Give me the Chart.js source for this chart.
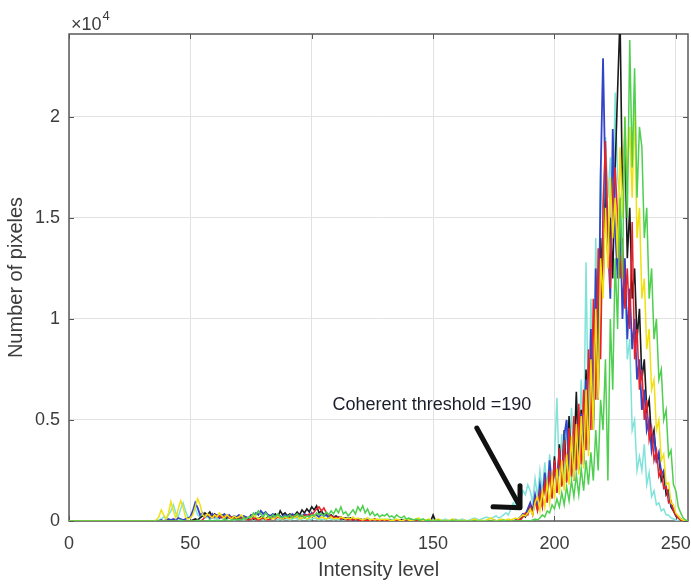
<!DOCTYPE html>
<html><head><meta charset="utf-8">
<script src="https://cdn.jsdelivr.net/npm/chart.js@4/dist/chart.umd.min.js"></script>
<style>html,body{margin:0;padding:0;background:#fff;}canvas{display:block;}</style>
</head><body>
<canvas id="c" width="691" height="584"></canvas>
<script>
// intensity bins 0..255
const levels = Array.from({length: 256}, (_, i) => i);
const xTickValues = [0, 50, 100, 150, 200, 250];
const yTickValues = [0, 5000, 10000, 15000, 20000];
const xTitle = 'Intensity level';
const yTitle = 'Number of pixeles';
const thresholdLabel = 'Coherent threshold =190';
const labelAt = [149.5, 5750];
const arrowFrom = [168, 4600];
const arrowTo = [185.8, 650];

const yellowCounts = [
0,0,0,0,0,0,0,0,0,0, 0,0,0,0,0,0,0,0,0,0, 0,0,0,0,0,0,0,0,0,0,
0,0,0,0,0,0,50,200,550,300,
100,400,950,500,150,600,1000,700,200,100,
150,300,700,1100,800,300,200,350,250,150,
300,200,400,250,150,300,200,100,250,150,
200,300,150,100,200,150,300,200,100,150,
250,100,150,200,100,150,250,150,100,200,
150,100,200,150,250,100,150,200,100,150,
200,300,150,100,200,150,100,150,200,100,
150,100,200,150,100,150,100,200,100,150,
100,50,100,150,50,100,50,100,50,100,
50,100,50,0,50,100,50,0,50,100,
50,0,50,100,150,50,0,50,100,50,
0,50,100,50,0,50,0,50,100,50,
0,50,0,50,0,0,50,100,50,0,
50,0,50,100,150,50,0,50,100,50,
50,100,50,100,150,100,200,300,250,400,
600,300,900,1200,500,1500,700,1900,900,2200,
1100,2600,1300,3000,1500,3300,1800,4200,2000,4800,
2300,5200,2600,6500,3200,8000,4500,10500,6000,13000,
11000,15500,12500,17000,14000,16000,13000,18500,15000,20000,
17000,19500,16000,20500,14000,15500,11000,12000,8500,9500,
6500,7000,4500,5000,3000,3300,1800,1900,900,800,
400,250,100,50,0,0];

const blueCounts = [
0,0,0,0,0,0,0,0,0,0, 0,0,0,0,0,0,0,0,0,0, 0,0,0,0,0,0,0,0,0,0,
0,0,0,0,0,0,0,0,50,0,
50,100,50,100,50,150,100,50,100,150,
200,500,900,650,300,400,200,300,150,350,
200,300,150,250,350,200,300,150,250,200,
300,150,250,200,150,300,250,400,300,500,
350,450,300,250,350,200,300,250,150,300,
250,200,350,250,200,300,250,350,300,200,
400,250,300,200,350,250,300,150,250,200,
150,200,100,150,100,150,100,50,100,50,
100,50,100,50,50,0,50,50,0,50,
50,0,50,0,0,50,0,0,50,0,
0,50,0,0,0,50,0,0,0,0,
0,0,50,0,0,0,0,0,0,50,
0,0,0,0,0,0,0,0,0,0,
0,0,0,0,0,50,0,0,0,0,
0,0,0,0,50,100,200,350,300,600,
900,500,1300,700,1800,900,2400,1200,3000,1500,
2800,1400,3500,1800,4200,5000,2400,4000,2000,4600,
2500,5300,2800,7000,3500,9500,5000,12500,7000,17000,
22900,16500,14000,11000,19400,14500,12000,15500,10000,13000,
9000,11500,8500,10000,7000,8000,5500,6500,4500,5000,
3500,4200,3000,3400,2300,2500,1600,1400,800,600,
300,200,100,0,0,0];

const blackCounts = [
0,0,0,0,0,0,0,0,0,0, 0,0,0,0,0,0,0,0,0,0, 0,0,0,0,0,0,0,0,0,0,
0,0,0,0,0,0,0,0,0,0, 0,0,0,0,0,0,0,0,0,0,
0,50,100,50,150,250,400,300,450,200,
350,250,150,300,200,150,250,100,200,150,
100,150,200,100,150,200,100,150,100,200,
150,100,200,150,250,350,200,500,300,400,
250,350,200,300,450,300,550,400,600,450,
700,550,750,400,500,300,400,250,300,200,
250,150,200,100,150,100,150,50,100,50,
100,50,50,0,50,0,50,0,0,50,
0,0,50,0,0,0,0,50,0,0,
0,0,0,0,0,0,0,0,50,0,
300,0,0,0,0,0,0,0,0,0,
0,0,0,0,0,0,0,0,0,0,
0,0,0,0,0,0,0,0,0,0,
0,0,0,0,0,50,150,300,200,500,
800,400,1100,600,1500,800,2000,1000,2600,1200,
3200,1500,3800,1800,4500,2000,5200,2400,3000,6400,
2600,5500,3000,7500,3800,8500,4500,11000,6000,14000,
11500,16500,13000,15000,12000,17500,21300,25000,16000,19000,
13000,15500,11000,12500,9000,10500,7000,8000,5500,6000,
4000,4500,3000,3200,2000,2300,1300,1500,700,500,
250,150,50,0,0,0];

const redCounts = [
0,0,0,0,0,0,0,0,0,0, 0,0,0,0,0,0,0,0,0,0, 0,0,0,0,0,0,0,0,0,0,
0,0,0,0,0,0,0,0,0,0, 0,0,0,0,0,0,0,0,0,0,
0,0,0,0,0,50,200,350,250,150,
300,200,250,150,200,300,150,200,100,150,
200,100,150,100,50,100,150,100,50,100,
150,100,50,100,150,100,200,150,100,150,
200,150,250,200,300,250,200,300,250,350,
300,450,600,700,500,650,400,300,250,200,
150,200,100,150,100,50,100,50,100,50,
0,50,0,50,0,50,100,0,50,0,
0,50,0,0,0,0,50,0,0,0,
0,0,0,50,0,0,0,0,0,0,
0,0,0,0,0,0,0,0,0,0,
0,0,0,0,0,0,0,0,0,0,
0,0,0,0,0,0,0,0,0,0,
0,0,0,0,0,100,50,200,400,300,
700,300,1000,500,1400,700,1900,900,2500,1100,
3000,1400,3600,1700,4000,1900,4600,2200,5200,2500,
5800,2800,6500,3500,8500,4500,11000,6000,13500,8000,
15500,18800,14500,11500,16000,17500,15000,12000,14000,10500,
12500,9500,14800,8000,9500,6500,7500,5000,6000,4000,
4600,3000,3500,2200,2500,1600,1700,900,1000,500,
300,150,50,0,0,0];

const cyanCounts = [
0,0,0,0,0,0,0,0,0,0, 0,0,0,0,0,0,0,0,0,0, 0,0,0,0,0,0,0,0,0,0,
0,0,0,0,0,0,0,50,100,200,
100,300,500,800,400,200,600,900,500,200,
150,400,650,300,200,250,150,200,100,150,
100,150,100,200,150,100,150,100,50,100,
150,100,50,100,150,100,50,100,150,100,
50,100,50,100,150,100,50,100,50,100,
100,50,100,150,100,50,100,150,100,50,
100,150,100,50,100,50,100,150,100,50,
100,50,100,50,100,150,100,50,100,50,
100,50,100,150,100,50,100,50,100,50,
100,50,100,50,100,50,0,50,100,50,
50,100,50,0,50,100,50,50,0,50,
100,50,0,50,50,100,50,0,50,100,
50,50,100,50,0,50,100,150,100,50,
100,150,200,150,100,200,250,150,200,300,
400,300,600,900,700,1200,1000,1500,1300,1800,
1500,900,2100,1200,2500,1400,2900,1600,3300,1800,
3100,6100,2200,4300,2000,5000,2500,5600,2800,6200,
3000,7000,3500,12800,4500,11000,6000,14000,8000,17500,
14500,19000,16000,18000,15000,21200,17000,16000,13000,12000,
8000,9000,4500,5000,2500,3200,2500,3800,1800,2400,
1200,1500,800,900,500,600,300,300,150,100,
50,0,0,0,0,0];

const greenCounts = [
0,0,0,0,0,0,0,0,0,0, 0,0,0,0,0,0,0,0,0,0, 0,0,0,0,0,0,0,0,0,0,
0,0,0,0,0,0,0,0,0,0,
0,0,0,0,0,0,50,0,0,0,
0,0,0,50,0,0,0,0,50,0,
0,50,0,0,100,50,0,50,100,50,
100,50,150,100,200,200,400,300,500,350,
200,400,250,150,300,200,350,200,150,250,
200,300,150,250,350,200,300,150,250,200,
300,250,400,300,350,250,450,300,500,350,
600,400,700,350,450,250,400,550,350,700,
500,750,400,600,300,450,250,350,200,300,
250,350,200,250,150,300,200,150,250,100,
150,100,50,100,50,50,100,0,50,0,
0,0,50,0,0,0,0,0,50,0,
0,0,0,0,0,0,0,0,0,0,
0,0,0,0,0,0,0,0,0,50,
0,0,0,0,0,0,0,0,0,0,
0,50,100,50,150,300,200,500,400,800,
600,1100,700,1400,800,1700,1000,2000,1200,2300,
1300,2600,1500,3000,1800,3400,2000,4500,2500,6000,
4500,8000,2000,10000,6500,13000,9500,16000,12000,20000,
15000,23800,17500,22400,16000,19500,18500,14000,15500,11000,
12500,9000,10000,7000,7500,5000,5500,3200,3500,1800,
1500,700,400,150,50,0];

const series = [
  {name: 'green',  data: greenCounts,  color: '#4fcf4f', width: 1.5},
  {name: 'yellow', data: yellowCounts, color: '#f0e010', width: 1.5},
  {name: 'red',    data: redCounts,    color: '#e8202a', width: 1.5},
  {name: 'blue',   data: blueCounts,   color: '#3344c8', width: 1.8},
  {name: 'black',  data: blackCounts,  color: '#1a1a1a', width: 1.6},
  {name: 'cyan',   data: cyanCounts,   color: '#7fe3da', width: 1.5}
];

const textColor = '#3c3c3c';
const fontFamily = '"Liberation Sans", Arial, Helvetica, sans-serif';

const matlabAxes = {
  id: 'matlabAxes',
  beforeDatasetsDraw(chart) {
    const {ctx, chartArea: a, scales: {x, y}} = chart;
    ctx.save();
    ctx.strokeStyle = '#555';
    ctx.lineWidth = 1;
    const seg = (x0, y0, x1, y1) => { ctx.beginPath(); ctx.moveTo(x0, y0); ctx.lineTo(x1, y1); ctx.stroke(); };
    xTickValues.forEach(v => {
      const px = Math.round(x.getPixelForValue(v)) + 0.5;
      seg(px, a.bottom, px, a.bottom - 5);
      seg(px, a.top, px, a.top + 5);
    });
    yTickValues.forEach(v => {
      const py = Math.round(y.getPixelForValue(v)) + 0.5;
      seg(a.left, py, a.left + 5, py);
      seg(a.right, py, a.right - 5, py);
    });
    ctx.strokeStyle = '#5a5a5a';
    ctx.lineWidth = 1.5;
    ctx.strokeRect(a.left, a.top, a.right - a.left, a.bottom - a.top);
    ctx.restore();
  },
  afterDatasetsDraw(chart) {
    const {ctx, chartArea: a, scales: {x, y}} = chart;
    ctx.save();
    // x10^4 exponent label
    ctx.fillStyle = textColor;
    ctx.textBaseline = 'alphabetic';
    ctx.textAlign = 'left';
    ctx.font = '18px ' + fontFamily;
    const base = a.left + 2;
    ctx.fillText('\u00d710', base, a.top - 4);
    const w = ctx.measureText('\u00d710').width;
    ctx.font = '13px ' + fontFamily;
    ctx.fillText('4', base + w + 1, a.top - 14);
    // annotation text
    ctx.font = '18px ' + fontFamily;
    ctx.fillStyle = '#1c1c2a';
    ctx.textAlign = 'center';
    ctx.textBaseline = 'middle';
    ctx.fillText(thresholdLabel, x.getPixelForValue(labelAt[0]), y.getPixelForValue(labelAt[1]));
    // arrow
    const x0 = x.getPixelForValue(arrowFrom[0]), y0 = y.getPixelForValue(arrowFrom[1]);
    const x1 = x.getPixelForValue(arrowTo[0]), y1 = y.getPixelForValue(arrowTo[1]);
    ctx.strokeStyle = '#111';
    ctx.lineWidth = 5;
    ctx.lineCap = 'round';
    ctx.lineJoin = 'round';
    ctx.beginPath(); ctx.moveTo(x0, y0); ctx.lineTo(x1 - 1, y1 - 3); ctx.stroke();
    ctx.beginPath(); ctx.moveTo(x1 - 27, y1 - 1); ctx.lineTo(x1, y1); ctx.lineTo(x1, y1 - 22); ctx.stroke();
    ctx.restore();
  }
};

new Chart(document.getElementById('c'), {
  type: 'line',
  data: {
    labels: levels,
    datasets: series.map((s, i) => ({
      label: s.name,
      data: s.data,
      borderColor: s.color,
      backgroundColor: s.color,
      borderWidth: s.width,
      pointRadius: 0,
      tension: 0,
      fill: false,
      order: i
    }))
  },
  options: {
    responsive: false,
    animation: false,
    events: [],
    layout: {padding: {top: 34, right: 3, left: 0, bottom: 0}},
    plugins: {legend: {display: false}, tooltip: {enabled: false}},
    scales: {
      x: {
        type: 'linear',
        min: 0, max: 255,
        afterFit: s => { s.height = 63; s.paddingLeft = 0; s.paddingRight = 0; },
        afterBuildTicks: s => { s.ticks = xTickValues.map(v => ({value: v})); },
        grid: {color: '#e2e2e2', lineWidth: 1, drawTicks: false},
        border: {display: false},
        ticks: {padding: 12, color: textColor, font: {family: fontFamily, size: 18}, maxRotation: 0, autoSkip: false},
        title: {display: true, text: xTitle, color: textColor, font: {family: fontFamily, size: 20}, padding: {top: 0, bottom: 2}}
      },
      y: {
        type: 'linear',
        min: 0, max: 24100,
        afterFit: s => { s.width = 69; s.paddingTop = 0; s.paddingBottom = 0; },
        afterBuildTicks: s => { s.ticks = yTickValues.map(v => ({value: v})); },
        grid: {color: '#e2e2e2', lineWidth: 1, drawTicks: false},
        border: {display: false},
        ticks: {padding: 9, color: textColor, font: {family: fontFamily, size: 18}, callback: v => String(v / 10000)},
        title: {display: true, text: yTitle, color: textColor, font: {family: fontFamily, size: 20}, padding: {top: 4, bottom: 0}}
      }
    }
  },
  plugins: [matlabAxes]
});
</script>
</body></html>
